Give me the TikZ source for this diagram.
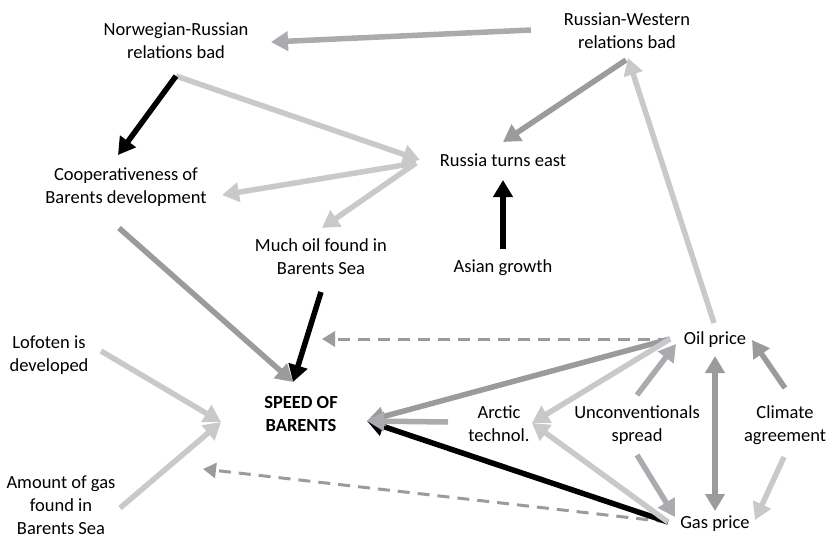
\documentclass[tikz,border=0pt]{standalone}
\usepackage{fontspec}
\setmainfont{Carlito}
\usetikzlibrary{arrows.meta}
\definecolor{cdark}{HTML}{9A9B9D}
\definecolor{cmid}{HTML}{A9ABAE}
\definecolor{clight}{HTML}{C8C9CB}
\tikzset{
  lbl/.style={align=center, inner sep=0pt, font=\fontsize{18.5}{23}\selectfont},
  arr/.style={line width=5.5pt, -{Triangle[length=17pt,width=19pt]}},
  darr/.style={line width=5.5pt, {Triangle[length=17pt,width=19pt]}-{Triangle[length=17pt,width=19pt]}},
  dsh/.style={line width=3pt, dash pattern=on 12pt off 8pt, -{Triangle[length=13pt,width=15pt]}}
}
\begin{document}
\begin{tikzpicture}[x=1pt,y=-1pt]
\useasboundingbox (0,0) rectangle (830,536);
% nodes
\node[lbl] (nr) at (176,41) {Norwegian-Russian\\relations bad};
\node[lbl] (rw) at (627,31) {Russian-Western\\relations bad};
\node[lbl] (coop) at (126,187) {Cooperativeness of\\Barents development};
\node[lbl] (rte) at (503,160) {Russia turns east};
\node[lbl] (much) at (321,257) {Much oil found in\\Barents Sea};
\node[lbl] (asia) at (503,268) {Asian growth};
\node[lbl] (lof) at (49,355) {Lofoten is\\developed};
\node[lbl, font=\fontsize{18.5}{23}\selectfont\bfseries] (speed) at (301,414) {SPEED OF\\BARENTS};
\node[lbl] (arc) at (499,424) {Arctic\\technol.};
\node[lbl] (unc) at (637,425) {Unconventionals\\spread};
\node[lbl] (clim) at (785,425) {Climate\\agreement};
\node[lbl] (oil) at (715,340) {Oil price};
\node[lbl] (gas) at (715,524) {Gas price};
\node[lbl] (amt) at (61,505) {Amount of gas\\found in\\Barents Sea};
% endpoint coordinates
\coordinate (rwW) at (531,30);
\coordinate (nrE) at (271,42);
\coordinate (nrS) at (176,76);
\coordinate (coopN) at (118,155);
\coordinate (rteW) at (420,160);
\coordinate (rteWs) at (416,163);
\coordinate (coopE) at (222,195);
\coordinate (muchN) at (322,228);
\coordinate (rwS) at (626,60);
\coordinate (rteN) at (503,142);
\coordinate (asiaN) at (503,249);
\coordinate (rteS) at (503,180);
\coordinate (oilN) at (714,323);
\coordinate (rwSe) at (628,58);
\coordinate (coopS) at (119,228);
\coordinate (speedN) at (293,382);
\coordinate (muchS) at (321,292);
\coordinate (lofE) at (101,351);
\coordinate (amtE) at (120,508);
\coordinate (speedW) at (221,422);
\coordinate (oilW) at (670,339);
\coordinate (dashA) at (322,339);
\coordinate (gasW) at (668,522);
\coordinate (dashB) at (203,469);
\coordinate (speedE) at (367,421);
\coordinate (arcW) at (448,422);
\coordinate (arcE) at (532,423);
\coordinate (uncN) at (637,395);
\coordinate (uncS) at (637,455);
\coordinate (oilSW) at (676,344);
\coordinate (gasNW) at (675,517);
\coordinate (oilS) at (715,356);
\coordinate (gasN) at (715,511);
\coordinate (climN) at (785,388);
\coordinate (oilE) at (752,340);
\coordinate (climS) at (784,457);
\coordinate (gasE) at (755,520);
% connectors
\draw[arr, cmid] (rwW) -- (nrE);
\draw[arr, clight] (nrS) -- (rteW);
\draw[arr, black] (nrS) -- (coopN);
\draw[arr, clight] (rteWs) -- (coopE);
\draw[arr, clight] (rteWs) -- (muchN);
\draw[arr, cdark] (rwS) -- (rteN);
\draw[arr, black] (asiaN) -- (rteS);
\draw[arr, clight] (oilN) -- (rwSe);
\draw[arr, cdark] (coopS) -- (speedN);
\draw[arr, black] (muchS) -- (speedN);
\draw[arr, clight] (lofE) -- (speedW);
\draw[arr, clight] (amtE) -- (speedW);
\draw[dsh, cdark] (oilW) -- (dashA);
\draw[dsh, cdark] (gasW) -- (dashB);
\draw[arr, black] (gasW) -- (speedE);
\draw[arr, cdark] (oilW) -- (speedE);
\draw[arr, cmid] (arcW) -- (speedE);
\draw[arr, clight] (oilW) -- (arcE);
\draw[arr, clight] (gasW) -- (arcE);
\draw[arr, cmid] (uncN) -- (oilSW);
\draw[arr, cmid] (uncS) -- (gasNW);
\draw[darr, cdark] (oilS) -- (gasN);
\draw[arr, cdark] (climN) -- (oilE);
\draw[arr, clight] (climS) -- (gasE);
\end{tikzpicture}
\end{document}
